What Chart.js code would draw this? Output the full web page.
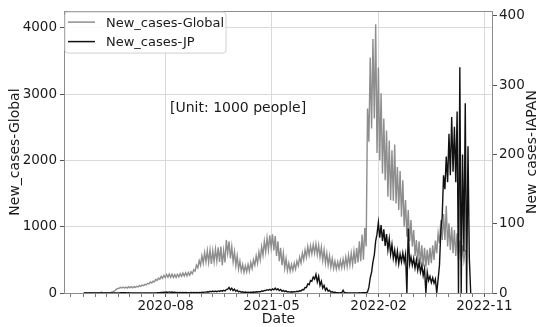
<!DOCTYPE html>
<html>
<head>
<meta charset="utf-8">
<script src="https://cdn.jsdelivr.net/npm/chart.js@4.4.0/dist/chart.umd.min.js"></script>
<style>
  html, body { margin: 0; padding: 0; background: #ffffff; }
  #wrap { width: 536px; height: 327px; position: relative; }
</style>
</head>
<body>
<div id="wrap"><canvas id="c" width="536" height="327"></canvas></div>
<script>
// Daily new cases in thousands, summarised per week as the weekly trough
// (start of week) and weekly crest (mid-week) values.
const weekStart = '2020-01-03';

const globalLow = [
  0.5, 0.8, 1.5, 2, 2, 2.5, 2, 1.5, 1.5, 3,
  10, 25, 55, 70, 75, 75, 75, 78, 78, 85,
  92, 100, 110, 122, 138, 150, 168, 188, 205, 222,
  232, 240, 238, 232, 236, 242, 250, 255, 258, 268,
  290, 330, 380, 420, 450, 470, 460, 440, 470, 480,
  470, 420, 460, 600, 520, 470, 410, 360, 330, 310,
  320, 330, 370, 420, 450, 500, 570, 620, 650, 680,
  640, 560, 480, 420, 375, 340, 330, 340, 360, 410,
  450, 500, 540, 570, 590, 600, 580, 540, 490, 450,
  420, 390, 370, 360, 370, 380, 390, 400, 420, 430,
  440, 460, 480, 500, 700, 2280, 2480, 2630, 2110, 2000,
  1800, 1700, 1450, 1400, 1390, 1350, 1250, 1150, 1000, 850,
  780, 700, 560, 480, 430, 400, 400, 420, 450, 500,
  600, 750, 800, 800, 700, 650, 600, 560, 500, 490,
  490, null, null
];
const globalHigh = [
  1, 2, 3, 3.5, 4, 4, 15, 3, 3, 6,
  18, 35, 70, 85, 90, 90, 95, 95, 95, 100,
  110, 120, 130, 145, 165, 180, 205, 225, 250, 265,
  278, 285, 282, 276, 282, 290, 300, 305, 310, 320,
  350, 420, 490, 560, 610, 640, 650, 640, 660, 690,
  700, 640, 800, 780, 700, 620, 560, 480, 430, 410,
  430, 460, 500, 560, 620, 700, 780, 830, 870, 885,
  860, 780, 680, 600, 520, 450, 430, 450, 480, 540,
  600, 650, 700, 710, 730, 740, 720, 690, 650, 600,
  560, 520, 480, 470, 490, 510, 540, 570, 600, 630,
  680, 780, 880, 980, 2780, 3550, 3830, 4050, 3400, 3010,
  2630, 2450, 2300, 2150, 2240, 1900, 1840, 1700, 1400, 1250,
  1100, 950, 800, 780, 720, 680, 650, 680, 720, 790,
  900, 1100, 1190, 1315, 1050, 990, 950, 900, 790, 720,
  650, null, null
];

const jpLow = [
  0, 0, 0, 0, 0, 0, 0, 0, 0, 0.01,
  0.03, 0.05, 0.1, 0.2, 0.4, 0.35, 0.2, 0.15, 0.05, 0.03,
  0.02, 0.02, 0.03, 0.05, 0.05, 0.1, 0.15, 0.3, 0.5, 0.7,
  0.9, 1.0, 0.9, 0.7, 0.5, 0.45, 0.4, 0.4, 0.4, 0.4,
  0.45, 0.5, 0.5, 0.6, 0.8, 1.2, 1.5, 1.7, 1.8, 2.0,
  2.3, 2.6, 3.0, 5.5, 4.5, 3.5, 2.5, 1.6, 1.1, 0.9,
  0.9, 0.9, 1.0, 1.2, 1.4, 1.8, 2.5, 3.5, 4.0, 4.0,
  4.5, 4.5, 3.5, 2.5, 2.0, 1.4, 1.3, 1.4, 1.6, 2.0,
  3.0, 4.5, 8, 12, 17, 20, 16, 11, 7, 4,
  2.5, 1.2, 0.7, 0.4, 0.2, 0.15, 0.15, 0.15, 0.1, 0.1,
  0.1, 0.15, 0.2, 0.3, 0.5, 8, 30, 55, 85, 80,
  75, 68, 62, 56, 50, 45, 42, 45, 45, 0,
  42, 40, 36, 33, 30, 25, 0, 18, 15, 14,
  0, 40, 110, 150, 160, 170, 175, 160, 0, 0,
  60, 0, 50
];
const jpHigh = [
  0, 0, 0, 0.01, 0.01, 0.02, 0.02, 0.03, 0.05, 0.06,
  0.06, 0.1, 0.2, 0.4, 0.6, 0.5, 0.35, 0.25, 0.1, 0.06,
  0.04, 0.04, 0.05, 0.08, 0.1, 0.15, 0.25, 0.5, 0.8, 1.2,
  1.5, 1.6, 1.4, 1.1, 0.9, 0.7, 0.65, 0.65, 0.6, 0.7,
  0.7, 0.8, 0.8, 1.0, 1.3, 1.8, 2.5, 2.7, 2.9, 3.0,
  3.4, 3.8, 5.0, 8.0, 7.0, 5.5, 4.0, 2.6, 1.8, 1.4,
  1.3, 1.3, 1.5, 1.8, 2.0, 2.8, 3.6, 4.8, 5.4, 5.8,
  6.9, 6.0, 5.0, 3.8, 3.0, 2.0, 1.8, 2.0, 2.4, 3.2,
  5, 8, 13, 18, 23, 27, 24, 17, 11, 7,
  4, 2, 1.1, 0.6, 0.3, 4, 0.3, 0.25, 0.2, 0.2,
  0.2, 0.3, 0.3, 0.5, 1.5, 22, 45, 75, 102, 98,
  92, 85, 78, 70, 62, 60, 56, 58, 56, 93,
  52, 50, 48, 45, 40, 35, 30, 24, 22, 20,
  20, 90, 170, 197, 230, 254, 240, 262, 326, 200,
  274, 212, 0
];

const seriesNames = ['New_cases-Global', 'New_cases-JP'];
const dateTickLabels = ['2020-08', '2021-05', '2022-02', '2022-11'];
const globalTicks = [0, 1000, 2000, 3000, 4000];
const jpTicks = [0, 100, 200, 300, 400];
const dateRange = ['2019-11-13', '2022-11-23'];
const globalMax = 4250;
const jpMax = 407;
const unitNote = '[Unit: 1000 people]';

// ---- helpers -------------------------------------------------------------
const DAY = 86400000;
const EPOCH = Date.UTC(2020, 0, 1);
function dayOf(s) {
  const p = s.split('-').map(Number);
  return (Date.UTC(p[0], p[1] - 1, p[2] || 1) - EPOCH) / DAY;
}
function labelOf(d) {
  const t = new Date(EPOCH + d * DAY);
  return t.getUTCFullYear() + '-' + String(t.getUTCMonth() + 1).padStart(2, '0');
}
function weeklyPoints(low, high) {
  const s = dayOf(weekStart);
  const pts = [];
  for (let i = 0; i < low.length; i++) {
    if (low[i] === null) break;
    pts.push({ x: s + 7 * i, y: low[i] });
    pts.push({ x: s + 7 * i + 3.5, y: high[i] });
  }
  return pts;
}

const xMin = dayOf(dateRange[0]);
const xMax = dayOf(dateRange[1]);
const majorDays = new Set(dateTickLabels.map(dayOf));
const monthDays = [];
for (let y = 2019; y <= 2022; y++) {
  for (let m = 1; m <= 12; m++) {
    const d = (Date.UTC(y, m - 1, 1) - EPOCH) / DAY;
    if (d >= xMin && d <= xMax) monthDays.push(d);
  }
}

const FONT = 'DejaVu Sans';
const TXT = '#1a1a1a';
const GRID = '#d9d9d9';

// frame, in-axes legend, note and axis titles
const decor = {
  id: 'decor',
  afterDraw(chart) {
    const { ctx, chartArea: a } = chart;
    ctx.save();
    ctx.strokeStyle = '#8c8c8c';
    ctx.lineWidth = 1;
    ctx.strokeRect(Math.round(a.left) + 0.5, Math.round(a.top) + 0.5,
                   Math.round(a.right - a.left) - 1, Math.round(a.bottom - a.top));

    // legend box
    const bx = a.left + 1, by = a.top + 1, bw = 161, bh = 41, r = 3;
    ctx.beginPath();
    ctx.moveTo(bx + r, by);
    ctx.arcTo(bx + bw, by, bx + bw, by + bh, r);
    ctx.arcTo(bx + bw, by + bh, bx, by + bh, r);
    ctx.arcTo(bx, by + bh, bx, by, r);
    ctx.arcTo(bx, by, bx + bw, by, r);
    ctx.closePath();
    ctx.fillStyle = 'rgba(255,255,255,0.85)';
    ctx.fill();
    ctx.strokeStyle = '#d0d0d0';
    ctx.lineWidth = 1;
    ctx.stroke();

    ctx.font = '13px "' + FONT + '"';
    ctx.textAlign = 'left';
    ctx.textBaseline = 'alphabetic';
    chart.data.datasets.forEach((ds, i) => {
      const yy = a.top + 11 + i * 19.5;
      ctx.strokeStyle = ds.borderColor;
      ctx.lineWidth = 1.5;
      ctx.beginPath();
      ctx.moveTo(a.left + 4, yy);
      ctx.lineTo(a.left + 31, yy);
      ctx.stroke();
      ctx.fillStyle = TXT;
      ctx.fillText(ds.label, a.left + 42, yy + 4.5);
    });

    // unit note
    ctx.font = '14px "' + FONT + '"';
    ctx.fillText(unitNote, 170, 112);

    // axis titles
    ctx.textAlign = 'center';
    ctx.fillText('Date', (a.left + a.right) / 2, 323);
    const cy = (a.top + a.bottom) / 2;
    ctx.save();
    ctx.translate(18.5, cy);
    ctx.rotate(-Math.PI / 2);
    ctx.fillText('New_cases-Global', 0, 0);
    ctx.restore();
    ctx.save();
    ctx.translate(535.5, cy);
    ctx.rotate(-Math.PI / 2);
    ctx.fillText('New_cases-JAPAN', 0, 0);
    ctx.restore();
    ctx.restore();
  }
};

const tickFont = { family: FONT, size: 13.5 };

new Chart(document.getElementById('c').getContext('2d'), {
  type: 'line',
  data: {
    datasets: [
      {
        label: seriesNames[0],
        data: weeklyPoints(globalLow, globalHigh),
        borderColor: '#8e8e8e',
        borderWidth: 1.4,
        pointRadius: 0,
        tension: 0,
        yAxisID: 'yG',
        order: 2
      },
      {
        label: seriesNames[1],
        data: weeklyPoints(jpLow, jpHigh),
        borderColor: '#111111',
        borderWidth: 1.4,
        pointRadius: 0,
        tension: 0,
        yAxisID: 'yJ',
        order: 1
      }
    ]
  },
  options: {
    responsive: false,
    animation: false,
    devicePixelRatio: 1,
    parsing: false,
    layout: { padding: { top: 9, left: 0, right: 0, bottom: 0 } },
    plugins: { legend: { display: false }, tooltip: { enabled: false } },
    scales: {
      x: {
        type: 'linear',
        min: xMin,
        max: xMax,
        afterBuildTicks: s => { s.ticks = monthDays.map(v => ({ value: v })); },
        afterFit: s => { s.height = 34; },
        ticks: {
          autoSkip: false,
          maxRotation: 0,
          padding: 1,
          color: TXT,
          font: tickFont,
          callback: v => (majorDays.has(v) ? labelOf(v) : '')
        },
        grid: {
          color: c => (c.tick && majorDays.has(c.tick.value) ? GRID : 'rgba(0,0,0,0)'),
          tickColor: c => (c.tick && majorDays.has(c.tick.value) ? '#555' : '#777'),
          tickLength: 4,
          lineWidth: 1
        },
        border: { display: false }
      },
      yG: {
        position: 'left',
        min: 0,
        max: globalMax,
        afterBuildTicks: s => { s.ticks = globalTicks.map(v => ({ value: v })); },
        afterFit: s => { s.width = 64; },
        ticks: {
          padding: 3,
          color: TXT,
          font: tickFont,
          callback: v => String(v)
        },
        grid: { color: GRID, tickColor: '#555', tickLength: 4, lineWidth: 1 },
        border: { display: false }
      },
      yJ: {
        position: 'right',
        min: 0,
        max: jpMax,
        afterBuildTicks: s => { s.ticks = jpTicks.map(v => ({ value: v })); },
        afterFit: s => { s.width = 43; },
        ticks: {
          padding: 2,
          color: TXT,
          font: tickFont,
          callback: v => String(v)
        },
        grid: { drawOnChartArea: false, tickColor: '#555', tickLength: 4 },
        border: { display: false }
      }
    }
  },
  plugins: [decor]
});
</script>
</body>
</html>
